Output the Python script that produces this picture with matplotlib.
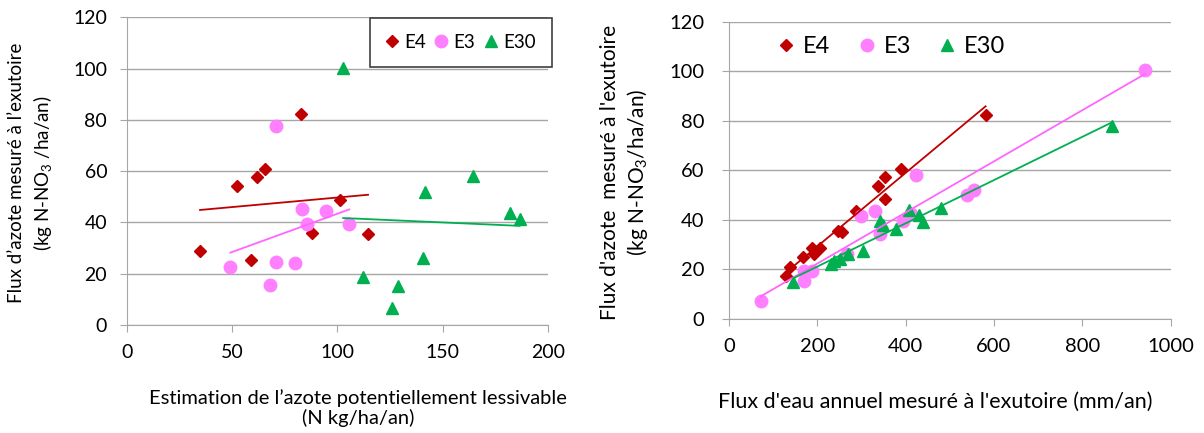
import matplotlib
matplotlib.use("Agg")
import matplotlib.pyplot as plt
import numpy as np

plt.rcParams['font.family'] = ['Lato', 'DejaVu Sans']
plt.rcParams['mathtext.fontset'] = 'custom'
plt.rcParams['mathtext.rm'] = 'Lato'
plt.rcParams['mathtext.it'] = 'Lato:italic'

# left chart: estimated leachable N vs measured N flux
nest_e4 = [34.8, 52.4, 61.7, 65.7, 82.6, 59.2, 101.3, 87.7, 114.5]
nflx_e4 = [28.7, 54.1, 57.7, 61.0, 82.4, 25.4, 48.9, 35.9, 35.5]
nest_e3 = [49.2, 70.6, 67.9, 71.0, 79.7, 83.3, 85.7, 94.6, 105.6]
nflx_e3 = [22.6, 77.6, 15.7, 24.5, 24.3, 45.4, 39.4, 44.3, 39.4]
nest_e30 = [102.7, 112.2, 126.0, 128.7, 140.5, 141.7, 164.1, 182.0, 186.4]
nflx_e30 = [100.4, 18.9, 6.5, 15.3, 26.3, 51.8, 58.0, 43.7, 41.5]

# right chart: annual water flux vs measured N flux
eau_e4 = [130, 139, 168, 188, 193, 205, 246, 256, 288, 338, 354, 354, 390, 581]
azo_e4 = [17.3, 21.1, 25.1, 28.5, 26.2, 28.5, 35.6, 35.2, 43.4, 53.7, 57.3, 48.3, 60.7, 82.4]
eau_e3 = [72, 169, 169, 188, 267, 298, 330, 341, 394, 412, 424, 538, 555, 942]
azo_e3 = [7.1, 19.5, 15.4, 19.5, 26.4, 41.6, 43.6, 34.5, 39.6, 42.5, 58.1, 50.1, 51.9, 100.6]
eau_e30 = [145, 231, 237, 252, 269, 304, 341, 349, 378, 408, 430, 439, 480, 868]
azo_e30 = [14.8, 22.1, 23.5, 24.2, 26.2, 27.5, 39.5, 38.0, 36.2, 44.1, 42.0, 39.0, 45.0, 77.7]

names = ['E4', 'E3', 'E30']
mcol = ['#C00000', '#FF80FF', '#00B050']
lcol = ['#C00000', '#FF66FF', '#00B050']
marks = ['D', 'o', '^']
msize = [6, 9, 8.5]
grid_c = '#A6A6A6'

fig = plt.figure(figsize=(12.04, 4.33), dpi=100)
axL = fig.add_axes([0.1052, 0.2494, 0.3502, 0.7106])
axR = fig.add_axes([0.6055, 0.2633, 0.3668, 0.6866])


def draw(ax, series, fs):
    for (xs, ys), nm, mc, lc, mk, ms in zip(series, names, mcol, lcol, marks, msize):
        ax.plot(xs, ys, ls='none', marker=mk, ms=ms, color=mc, mec=mc, label=nm, zorder=3)
        a, b = np.polyfit(xs, ys, 1)
        xx = np.array([min(xs), max(xs)])
        ax.plot(xx, a * xx + b, color=lc, lw=1.3, zorder=4)
    ax.set_ylim(0, 120)
    ax.set_yticks(range(0, 121, 20))
    ax.grid(axis='y', color=grid_c, lw=1)
    ax.set_axisbelow(True)
    for s in ['top', 'right']:
        ax.spines[s].set_visible(False)
    for s in ['left', 'bottom']:
        ax.spines[s].set_color(grid_c)
    ax.tick_params(axis='x', direction='out', length=5, color=grid_c, labelsize=fs, pad=9)
    ax.tick_params(axis='y', direction='out', length=5, color=grid_c, labelsize=fs, pad=9)


draw(axL, [(nest_e4, nflx_e4), (nest_e3, nflx_e3), (nest_e30, nflx_e30)], 14)
axL.set_xlim(0, 200)
axL.set_xticks(range(0, 201, 50))
leg = axL.legend(loc='upper right', bbox_to_anchor=(1.009, 0.998), ncol=3, numpoints=1,
                 fontsize=13.5, handlelength=0.6, handletextpad=0.35, columnspacing=0.55,
                 borderpad=0.85, borderaxespad=0, fancybox=False, framealpha=1)
leg.get_frame().set_edgecolor('#404040')
leg.get_frame().set_linewidth(1.2)

draw(axR, [(eau_e4, azo_e4), (eau_e3, azo_e3), (eau_e30, azo_e30)], 14.5)
axR.set_xlim(0, 1000)
axR.set_xticks(range(0, 1001, 200))
axR.tick_params(axis='y', pad=13)
axR.legend(loc='center left', bbox_to_anchor=(0.09, 0.915), ncol=3, numpoints=1,
           fontsize=17, handlelength=0.7, handletextpad=0.35, columnspacing=1.2,
           frameon=False, borderaxespad=0)

fig.text(31 / 1204, 1 - 173 / 433, 'Flux d\u2019azote mesuré à l\u2019exutoire\n(kg N-NO$_3$ /ha/an)',
         rotation=90, ha='center', va='center', multialignment='center', fontsize=13.5, linespacing=1.3)
fig.text(358 / 1204, 1 - 408 / 433, 'Estimation de l\u2019azote potentiellement lessivable\n(N kg/ha/an)',
         ha='center', va='center', multialignment='center', fontsize=14.5, linespacing=1.1)
fig.text(625 / 1204, 1 - 172 / 433, "Flux d'azote  mesuré à l'exutoire\n(kg N-NO$_3$/ha/an)",
         rotation=90, ha='center', va='center', multialignment='center', fontsize=15, linespacing=1.25)
fig.text(935 / 1204, 1 - 402 / 433, "Flux d'eau annuel mesuré à l'exutoire (mm/an)",
         ha='center', va='center', fontsize=15.5)

fig.savefig('out.png', dpi=100)
